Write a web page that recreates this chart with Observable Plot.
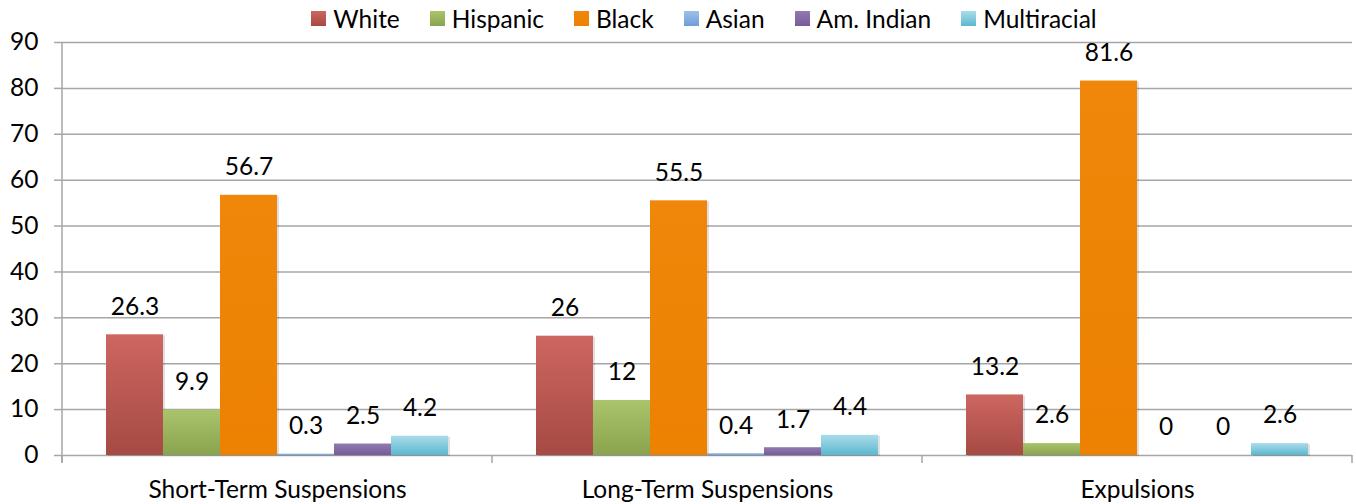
<!DOCTYPE html>
<html>
<head>
<meta charset="utf-8">
<script src="https://cdn.jsdelivr.net/npm/d3@7"></script>
<script src="https://cdn.jsdelivr.net/npm/@observablehq/plot@0.6"></script>
<style>
  html, body { margin: 0; padding: 0; background: #fff; }
  body { width: 1356px; height: 504px; overflow: hidden; font-family: Lato, "Open Sans", sans-serif; }
  #legend { height: 36px; display: flex; align-items: center; justify-content: center; padding-left: 52px; box-sizing: border-box; font-size: 24.5px; color: #000; }
  .item { display: flex; align-items: center; margin: 0 15px; }
  .sw { width: 15px; height: 15px; margin-right: 7px; }
  #chart svg { overflow: visible; display: block; }
</style>
</head>
<body>
<div id="legend"></div>
<div id="chart"></div>
<script>
const groups = ["Short-Term Suspensions", "Long-Term Suspensions", "Expulsions"];
const races = ["White", "Hispanic", "Black", "Asian", "Am. Indian", "Multiracial"];
const white = [26.3, 26, 13.2];
const hispanic = [9.9, 12, 2.6];
const black = [56.7, 55.5, 81.6];
const asian = [0.3, 0.4, 0];
const amIndian = [2.5, 1.7, 0];
const multiracial = [4.2, 4.4, 2.6];
const yTicks = [0, 10, 20, 30, 40, 50, 60, 70, 80, 90];

const seriesValues = [white, hispanic, black, asian, amIndian, multiracial];
const colorTop = ["#cd6660", "#aac46c", "#f0870a", "#9ec0ea", "#9279b2", "#abdcea"];
const colorBottom = ["#a64a44", "#8aa34e", "#ec8102", "#6c9ed9", "#775d97", "#5bb8cf"];
const GRID = "#a6a6a6";
const FONT = "Lato, 'Open Sans', sans-serif";
const FS = 24.5;

const table = groups.flatMap((g, gi) => races.map((r, ri) => ({group: g, race: r, value: seriesValues[ri][gi], ri})));

// legend
const legend = document.getElementById("legend");
races.forEach((r, i) => {
  const it = document.createElement("div");
  it.className = "item";
  it.innerHTML = `<div class="sw" style="background:linear-gradient(${colorTop[i]},${colorBottom[i]})"></div><span>${r}</span>`;
  legend.appendChild(it);
});

const defs = () => {
  const s = d3.create("svg:defs");
  races.forEach((r, i) => {
    const lg = s.append("linearGradient").attr("id", "grad" + i).attr("x1", 0).attr("y1", 0).attr("x2", 0).attr("y2", 1);
    lg.append("stop").attr("offset", "0%").attr("stop-color", colorTop[i]);
    lg.append("stop").attr("offset", "100%").attr("stop-color", colorBottom[i]);
  });
  return s.node();
};

const decor = Plot.frame({
  facet: "super",
  render: (index, scales, values, dims) => {
    const {fx, y} = scales;
    const g = d3.create("svg:g").attr("stroke", GRID).attr("stroke-width", 1.5).attr("fill", "none");
    const left = fx(groups[0]);
    const right = dims.width - dims.marginRight;
    g.append("line").attr("x1", left).attr("x2", left).attr("y1", y(yTicks[yTicks.length - 1])).attr("y2", y(0) + 8);
    const edges = groups.map(k => fx(k)).concat([right]);
    edges.forEach(xv => {
      g.append("line").attr("x1", xv).attr("x2", xv).attr("y1", y(0)).attr("y2", y(0) + 8);
    });
    return g.node();
  }
});

const chart = Plot.plot({
  width: 1356,
  height: 468,
  marginTop: 6,
  marginBottom: 49,
  marginLeft: 61,
  marginRight: 4,
  style: {fontFamily: FONT, fontSize: FS + "px", color: "#000", background: "#fff", overflow: "visible"},
  fx: {domain: groups, padding: 0, label: null},
  x: {domain: races, paddingInner: 0, paddingOuter: 0.74, axis: null},
  y: {domain: [0, 90], label: null},
  marks: [
    defs,
    Plot.gridY(yTicks, {stroke: GRID, strokeOpacity: 1, strokeWidth: 1.5}),
    Plot.axisY(yTicks, {tickSize: 8, tickPadding: 16, fontSize: FS, stroke: GRID, strokeWidth: 1.5, fill: "#000", label: null}),
    Plot.axisFx({anchor: "bottom", tickSize: 0, tickPadding: 25, fontSize: FS, fill: "#000", label: null}),
    Plot.barY(table.filter(d => d.value > 0), {fx: "group", x: "race", y: "value", fill: "#000", fillOpacity: 0.12, dx: 2, dy: 1}),
    ...races.map((r, i) => Plot.barY(table.filter(d => d.race === r), {
      fx: "group", x: "race", y: "value", fill: `url(#grad${i})`
    })),
    Plot.text(table, {fx: "group", x: "race", y: "value", text: d => String(d.value), dy: -28, fontSize: FS, fill: "#000"}),
    decor
  ]
});
document.getElementById("chart").appendChild(chart);
</script>
</body>
</html>
